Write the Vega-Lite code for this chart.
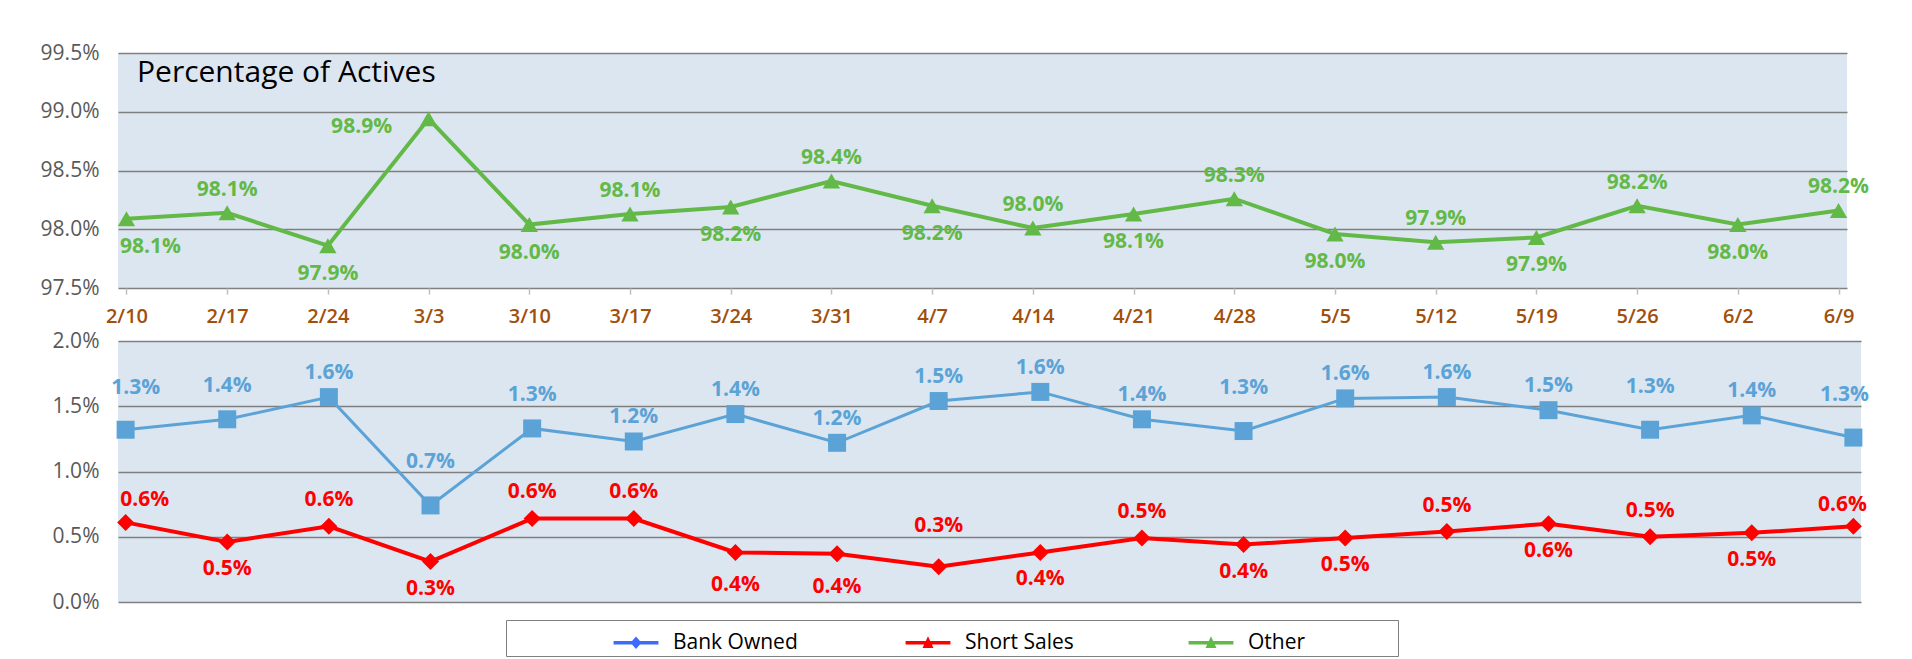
{
  "$schema": "https://vega.github.io/schema/vega-lite/v6.json",
  "background": "white",
  "padding": {"left": 18, "top": 42, "right": 0, "bottom": 0},
  "autosize": {"type": "pad"},
  "spacing": 4,
  "config": {
    "view": {"fill": "#DCE6F1", "stroke": null},
    "text": {"font": "Open Sans", "fontSize": 21, "fontWeight": "bold"},
    "axis": {"labelFont": "Open Sans"}
  },
  "datasets": {
    "pct": [
      {"date": "2/10", "series": "Other", "value": 98.09, "label": "98.1%"},
      {"date": "2/17", "series": "Other", "value": 98.14, "label": "98.1%"},
      {"date": "2/24", "series": "Other", "value": 97.86, "label": "97.9%"},
      {"date": "3/3", "series": "Other", "value": 98.94, "label": "98.9%"},
      {"date": "3/10", "series": "Other", "value": 98.04, "label": "98.0%"},
      {"date": "3/17", "series": "Other", "value": 98.13, "label": "98.1%"},
      {"date": "3/24", "series": "Other", "value": 98.19, "label": "98.2%"},
      {"date": "3/31", "series": "Other", "value": 98.41, "label": "98.4%"},
      {"date": "4/7", "series": "Other", "value": 98.2, "label": "98.2%"},
      {"date": "4/14", "series": "Other", "value": 98.01, "label": "98.0%"},
      {"date": "4/21", "series": "Other", "value": 98.13, "label": "98.1%"},
      {"date": "4/28", "series": "Other", "value": 98.26, "label": "98.3%"},
      {"date": "5/5", "series": "Other", "value": 97.96, "label": "98.0%"},
      {"date": "5/12", "series": "Other", "value": 97.89, "label": "97.9%"},
      {"date": "5/19", "series": "Other", "value": 97.93, "label": "97.9%"},
      {"date": "5/26", "series": "Other", "value": 98.2, "label": "98.2%"},
      {"date": "6/2", "series": "Other", "value": 98.04, "label": "98.0%"},
      {"date": "6/9", "series": "Other", "value": 98.16, "label": "98.2%"},
      {"date": "2/10", "series": "Bank Owned", "value": 1.32, "label": "1.3%"},
      {"date": "2/17", "series": "Bank Owned", "value": 1.4, "label": "1.4%"},
      {"date": "2/24", "series": "Bank Owned", "value": 1.57, "label": "1.6%"},
      {"date": "3/3", "series": "Bank Owned", "value": 0.74, "label": "0.7%"},
      {"date": "3/10", "series": "Bank Owned", "value": 1.33, "label": "1.3%"},
      {"date": "3/17", "series": "Bank Owned", "value": 1.23, "label": "1.2%"},
      {"date": "3/24", "series": "Bank Owned", "value": 1.44, "label": "1.4%"},
      {"date": "3/31", "series": "Bank Owned", "value": 1.22, "label": "1.2%"},
      {"date": "4/7", "series": "Bank Owned", "value": 1.54, "label": "1.5%"},
      {"date": "4/14", "series": "Bank Owned", "value": 1.61, "label": "1.6%"},
      {"date": "4/21", "series": "Bank Owned", "value": 1.4, "label": "1.4%"},
      {"date": "4/28", "series": "Bank Owned", "value": 1.31, "label": "1.3%"},
      {"date": "5/5", "series": "Bank Owned", "value": 1.56, "label": "1.6%"},
      {"date": "5/12", "series": "Bank Owned", "value": 1.57, "label": "1.6%"},
      {"date": "5/19", "series": "Bank Owned", "value": 1.47, "label": "1.5%"},
      {"date": "5/26", "series": "Bank Owned", "value": 1.32, "label": "1.3%"},
      {"date": "6/2", "series": "Bank Owned", "value": 1.43, "label": "1.4%"},
      {"date": "6/9", "series": "Bank Owned", "value": 1.26, "label": "1.3%"},
      {"date": "2/10", "series": "Short Sales", "value": 0.61, "label": "0.6%"},
      {"date": "2/17", "series": "Short Sales", "value": 0.46, "label": "0.5%"},
      {"date": "2/24", "series": "Short Sales", "value": 0.58, "label": "0.6%"},
      {"date": "3/3", "series": "Short Sales", "value": 0.31, "label": "0.3%"},
      {"date": "3/10", "series": "Short Sales", "value": 0.64, "label": "0.6%"},
      {"date": "3/17", "series": "Short Sales", "value": 0.64, "label": "0.6%"},
      {"date": "3/24", "series": "Short Sales", "value": 0.38, "label": "0.4%"},
      {"date": "3/31", "series": "Short Sales", "value": 0.37, "label": "0.4%"},
      {"date": "4/7", "series": "Short Sales", "value": 0.27, "label": "0.3%"},
      {"date": "4/14", "series": "Short Sales", "value": 0.38, "label": "0.4%"},
      {"date": "4/21", "series": "Short Sales", "value": 0.49, "label": "0.5%"},
      {"date": "4/28", "series": "Short Sales", "value": 0.44, "label": "0.4%"},
      {"date": "5/5", "series": "Short Sales", "value": 0.49, "label": "0.5%"},
      {"date": "5/12", "series": "Short Sales", "value": 0.54, "label": "0.5%"},
      {"date": "5/19", "series": "Short Sales", "value": 0.6, "label": "0.6%"},
      {"date": "5/26", "series": "Short Sales", "value": 0.5, "label": "0.5%"},
      {"date": "6/2", "series": "Short Sales", "value": 0.53, "label": "0.5%"},
      {"date": "6/9", "series": "Short Sales", "value": 0.58, "label": "0.6%"}
    ]
  },
  "vconcat": [
    {
      "width": 1729,
      "height": 235,
      "data": {"name": "pct"},
      "transform": [{"filter": "datum.series === 'Other'"}],
      "title": {"text": "Percentage of Actives", "anchor": "start", "frame": "group", "orient": "top", "offset": -31, "dx": 19, "dy": 39, "baseline": "alphabetic", "font": "Open Sans", "fontSize": 30, "fontWeight": 500, "color": "#000000"},
      "encoding": {
        "x": {"field": "date", "type": "ordinal", "sort": null, "scale": {"type": "point", "padding": 0.084},
          "axis": {"title": null, "domain": false, "ticks": true, "tickColor": "#BFBFBF", "tickSize": 6, "tickWidth": 1.5, "labelPadding": 12, "labelBaseline": "top", "labelFontSize": 20, "labelColor": "#A0500C", "labelFontWeight": 600, "labelAngle": 0, "labelOverlap": false, "labelFlush": false, "grid": false, "minExtent": 35, "maxExtent": 35}},
        "y": {"field": "value", "type": "quantitative", "scale": {"domain": [97.5, 99.5], "zero": false, "nice": false},
          "axis": {"title": null, "domain": false, "ticks": false, "labelPadding": 19, "labelFontSize": 21, "labelColor": "#595959", "grid": true, "gridColor": "#7F7F7F", "gridWidth": 1.5, "values": [97.5, 98, 98.5, 99, 99.5], "labelExpr": "format(datum.value, '.1f') + '%'", "minExtent": 100, "maxExtent": 100}}
      },
      "layer": [
        {"mark": {"type": "line", "color": "#63B947", "strokeWidth": 4}},
        {"mark": {"type": "point", "shape": "triangle-up", "filled": true, "size": 300, "color": "#63B947", "opacity": 1}},
        {"transform": [{"filter": {"field": "date", "oneOf": ["2/24", "3/10", "3/24", "4/7", "4/21", "5/5", "5/19", "6/2"]}}],
          "mark": {"type": "text", "dy": 28, "color": "#63B947"}, "encoding": {"text": {"field": "label"}}},
        {"transform": [{"filter": {"field": "date", "oneOf": ["2/10"]}}],
          "mark": {"type": "text", "dy": 28, "dx": 24, "color": "#63B947"}, "encoding": {"text": {"field": "label"}}},
        {"transform": [{"filter": {"field": "date", "oneOf": ["2/17", "3/17", "3/31", "4/14", "4/28", "5/12", "5/26", "6/9"]}}],
          "mark": {"type": "text", "dy": -23, "color": "#63B947"}, "encoding": {"text": {"field": "label"}}},
        {"transform": [{"filter": {"field": "date", "oneOf": ["3/3"]}}],
          "mark": {"type": "text", "dy": 8, "dx": -67, "color": "#63B947"}, "encoding": {"text": {"field": "label"}}}
      ]
    },
    {
      "width": 1743,
      "height": 261,
      "data": {"name": "pct"},
      "encoding": {
        "x": {"field": "date", "type": "ordinal", "sort": null, "scale": {"type": "point", "padding": 0.075}, "axis": null},
        "y": {"field": "value", "type": "quantitative", "scale": {"domain": [0, 2], "zero": false, "nice": false},
          "axis": {"title": null, "domain": false, "ticks": false, "labelPadding": 19, "labelFontSize": 21, "labelColor": "#595959", "grid": true, "gridColor": "#7F7F7F", "gridWidth": 1.5, "values": [0, 0.5, 1, 1.5, 2], "labelExpr": "format(datum.value, '.1f') + '%'", "minExtent": 100, "maxExtent": 100}}
      },
      "layer": [
        {"transform": [{"filter": "datum.series === 'Bank Owned'"}],
          "mark": {"type": "line", "color": "#5BA3D6", "strokeWidth": 3}},
        {"transform": [{"filter": "datum.series === 'Bank Owned'"}],
          "mark": {"type": "point", "shape": "square", "filled": true, "size": 324, "color": "#5BA3D6", "opacity": 1}},
        {"transform": [{"filter": "datum.series === 'Short Sales'"}],
          "mark": {"type": "line", "color": "#FF0000", "strokeWidth": 4}},
        {"transform": [{"filter": "datum.series === 'Short Sales'"}],
          "mark": {"type": "point", "shape": "diamond", "filled": true, "size": 290, "color": "#FF0000", "opacity": 1}},
        {"transform": [{"filter": "datum.series === 'Bank Owned'"}, {"filter": {"field": "date", "oneOf": ["2/24", "3/17", "3/24", "3/31", "4/7", "4/14", "4/21", "5/5", "5/12", "5/19", "6/2"]}}],
          "mark": {"type": "text", "dy": -24, "color": "#5BA3D6"}, "encoding": {"text": {"field": "label"}}},
        {"transform": [{"filter": "datum.series === 'Bank Owned'"}, {"filter": {"field": "date", "oneOf": ["2/17", "3/10"]}}],
          "mark": {"type": "text", "dy": -33, "color": "#5BA3D6"}, "encoding": {"text": {"field": "label"}}},
        {"transform": [{"filter": "datum.series === 'Bank Owned'"}, {"filter": {"field": "date", "oneOf": ["3/3", "4/28", "5/26"]}}],
          "mark": {"type": "text", "dy": -43, "color": "#5BA3D6"}, "encoding": {"text": {"field": "label"}}},
        {"transform": [{"filter": "datum.series === 'Bank Owned'"}, {"filter": {"field": "date", "oneOf": ["2/10"]}}],
          "mark": {"type": "text", "dy": -42, "dx": 10, "color": "#5BA3D6"}, "encoding": {"text": {"field": "label"}}},
        {"transform": [{"filter": "datum.series === 'Bank Owned'"}, {"filter": {"field": "date", "oneOf": ["6/9"]}}],
          "mark": {"type": "text", "dy": -43, "dx": -9, "color": "#5BA3D6"}, "encoding": {"text": {"field": "label"}}},
        {"transform": [{"filter": "datum.series === 'Short Sales'"}, {"filter": {"field": "date", "oneOf": ["2/24", "3/10", "3/17", "4/21", "5/12", "5/26"]}}],
          "mark": {"type": "text", "dy": -26, "color": "#FF0000"}, "encoding": {"text": {"field": "label"}}},
        {"transform": [{"filter": "datum.series === 'Short Sales'"}, {"filter": {"field": "date", "oneOf": ["4/7"]}}],
          "mark": {"type": "text", "dy": -41, "color": "#FF0000"}, "encoding": {"text": {"field": "label"}}},
        {"transform": [{"filter": "datum.series === 'Short Sales'"}, {"filter": {"field": "date", "oneOf": ["2/10"]}}],
          "mark": {"type": "text", "dy": -22, "dx": 19, "color": "#FF0000"}, "encoding": {"text": {"field": "label"}}},
        {"transform": [{"filter": "datum.series === 'Short Sales'"}, {"filter": {"field": "date", "oneOf": ["6/9"]}}],
          "mark": {"type": "text", "dy": -21, "dx": -11, "color": "#FF0000"}, "encoding": {"text": {"field": "label"}}},
        {"transform": [{"filter": "datum.series === 'Short Sales'"}, {"filter": {"field": "date", "oneOf": ["2/17", "3/3", "4/14", "4/28", "5/5", "5/19", "6/2"]}}],
          "mark": {"type": "text", "dy": 27, "color": "#FF0000"}, "encoding": {"text": {"field": "label"}}},
        {"transform": [{"filter": "datum.series === 'Short Sales'"}, {"filter": {"field": "date", "oneOf": ["3/24", "3/31"]}}],
          "mark": {"type": "text", "dy": 33, "color": "#FF0000"}, "encoding": {"text": {"field": "label"}}},
        {"mark": {"type": "point", "filled": true, "opacity": 0},
          "encoding": {
            "y": {"datum": 1},
            "color": {"field": "series", "type": "nominal",
              "scale": {"domain": ["Bank Owned", "Short Sales", "Other"], "range": ["#3D6BFF", "#FF0000", "#63B947"]},
              "legend": {
                "title": null,
                "orient": "none", "legendX": 388, "legendY": 567, "direction": "horizontal",
                "padding": 3, "strokeColor": "#7F7F7F", "fillColor": "#FFFFFF",
                "symbolSize": 1521, "symbolStrokeWidth": 0, "symbolOpacity": 1, "symbolOffset": 107.5,
                "labelOffset": 17.5, "columnPadding": 3, "gridAlign": "each",
                "labelFont": "Open Sans", "labelFontSize": 21, "labelColor": "#000000", "labelLimit": 400,
                "encode": {"symbols": {"update": {"opacity": {"value": 1}, "shape": {"signal": "datum.value === 'Bank Owned' ? 'M-1.15,-0.09H1.15V0.09H-1.15ZM0,-0.32L0.28,0L0,0.32L-0.28,0Z' : datum.value === 'Other' ? 'M-1.15,-0.09H1.15V0.09H-1.15ZM-0.28,0.27L0,-0.33L0.28,0.27ZM9.43,0Z' : 'M-1.15,-0.09H1.15V0.09H-1.15ZM-0.28,0.27L0,-0.33L0.28,0.27ZM7.8,0Z'"}}}}
              }}
          }}
      ]
    }
  ]
}
